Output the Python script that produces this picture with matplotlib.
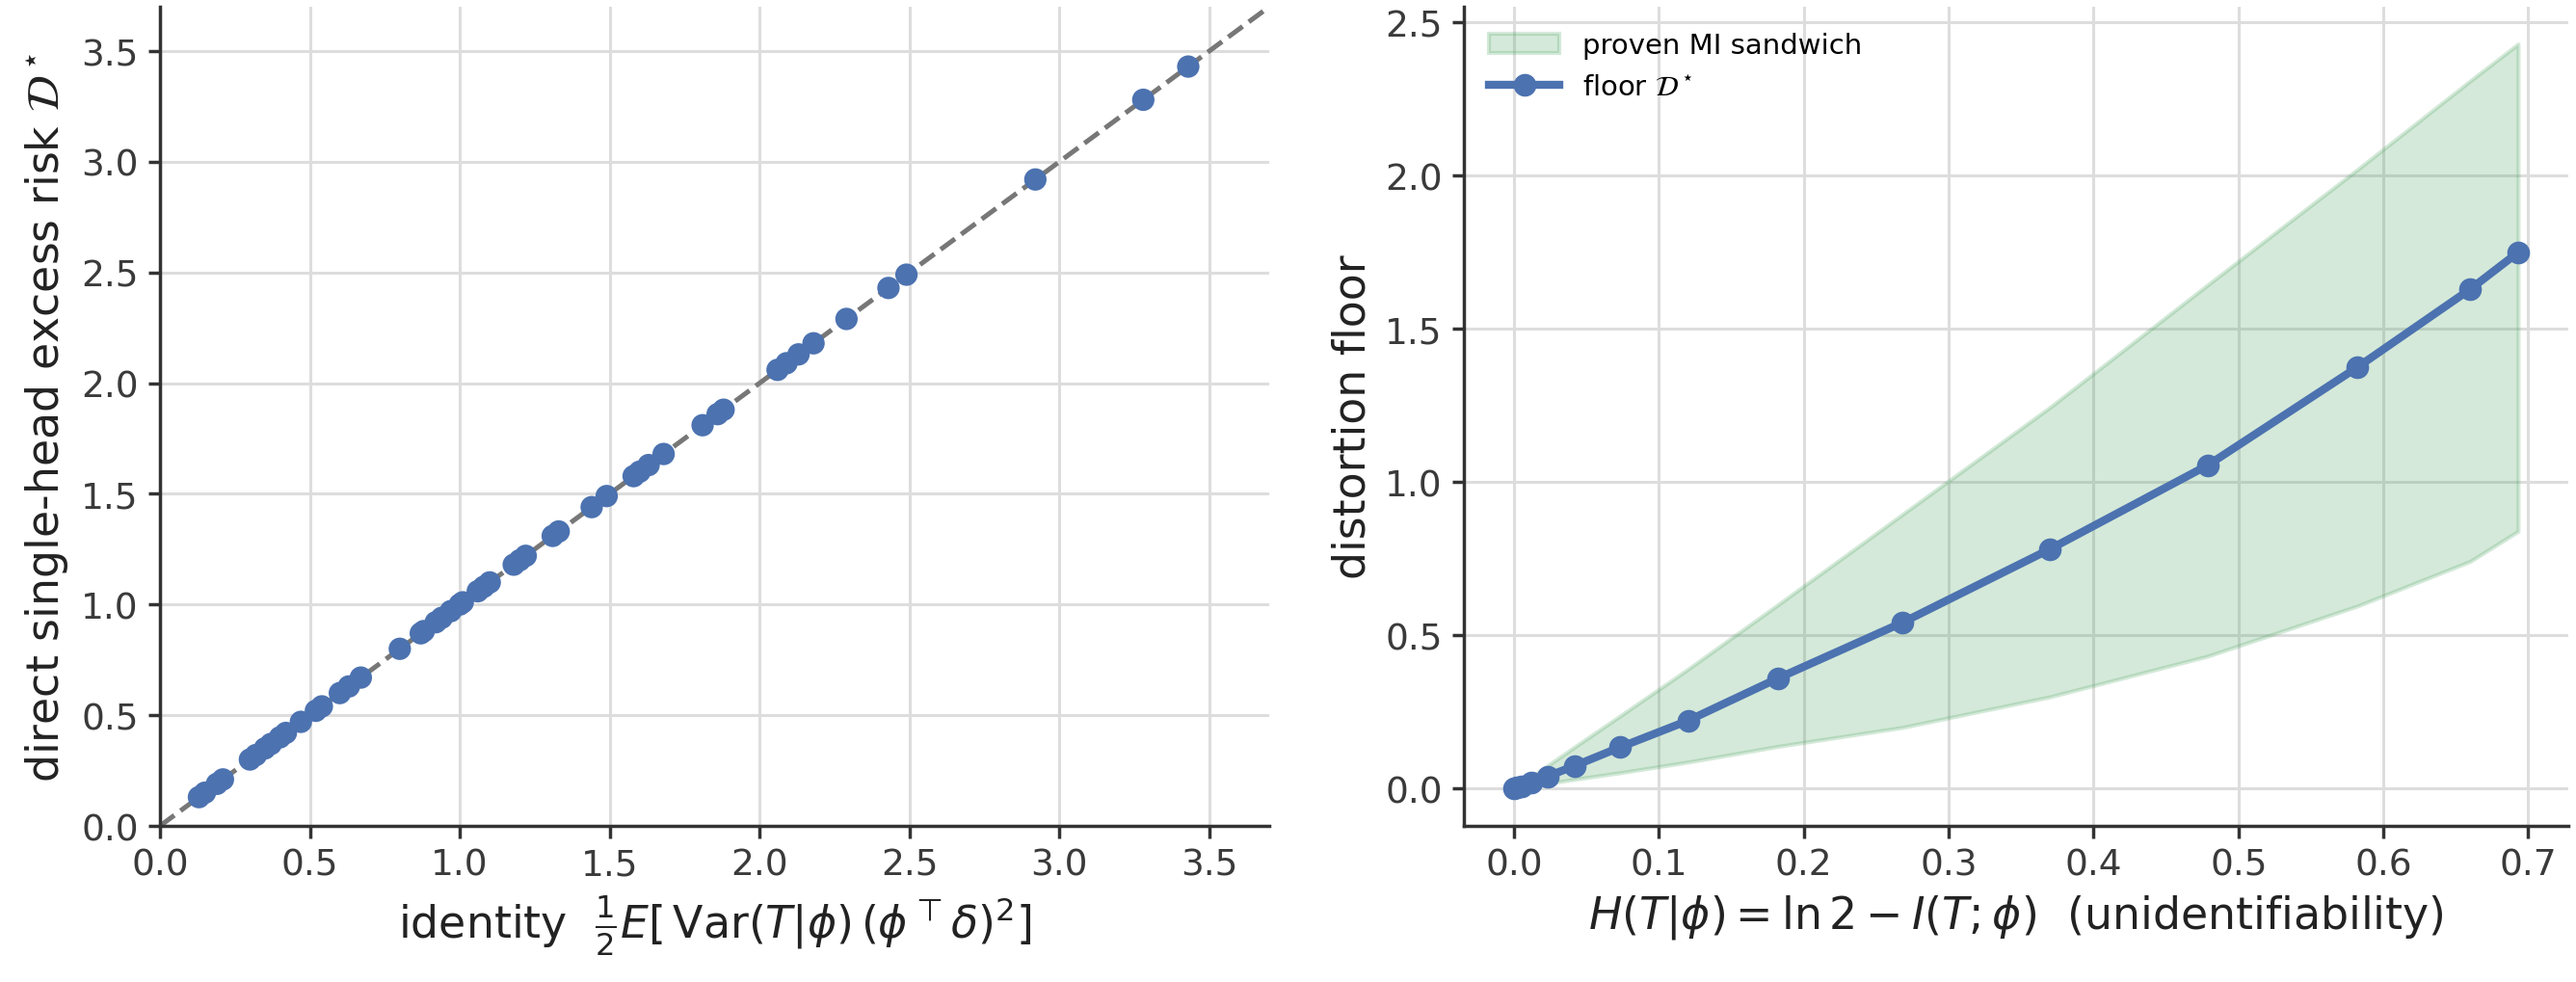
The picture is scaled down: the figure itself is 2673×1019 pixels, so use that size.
import matplotlib.pyplot as plt
import numpy as np

plt.switch_backend("Agg")

# Style
plt.rcParams['font.family'] = 'DejaVu Sans'
plt.rcParams['axes.edgecolor'] = '#333333'
plt.rcParams['axes.linewidth'] = 1.25
plt.rcParams['axes.axisbelow'] = True
plt.rcParams['xtick.color'] = '#333333'
plt.rcParams['ytick.color'] = '#333333'
plt.rcParams['xtick.labelcolor'] = '#3a3a3a'
plt.rcParams['ytick.labelcolor'] = '#3a3a3a'
plt.rcParams['xtick.major.size'] = 4.5
plt.rcParams['ytick.major.size'] = 4.5
plt.rcParams['xtick.major.width'] = 1.25
plt.rcParams['ytick.major.width'] = 1.25
plt.rcParams['xtick.labelsize'] = 13.5
plt.rcParams['ytick.labelsize'] = 13.5
plt.rcParams['axes.labelsize'] = 16.5
plt.rcParams['axes.labelcolor'] = '#222222'

BLUE = '#4C72B0'
GREEN = '#55A868'

# Left panel: identity check (direct risk vs identity formula)
identity_vals = [0.13, 0.15, 0.19, 0.21, 0.30, 0.32, 0.35, 0.37, 0.40, 0.42,
                 0.47, 0.52, 0.54, 0.60, 0.63, 0.67, 0.80, 0.87, 0.88, 0.92,
                 0.94, 0.97, 1.00, 1.01, 1.06, 1.08, 1.10, 1.18, 1.20, 1.22,
                 1.31, 1.33, 1.44, 1.49, 1.58, 1.60, 1.63, 1.68, 1.81, 1.86,
                 1.88, 2.06, 2.09, 2.13, 2.18, 2.29, 2.43, 2.49, 2.92, 3.28, 3.43]
direct_vals = [0.13, 0.15, 0.19, 0.21, 0.30, 0.32, 0.35, 0.37, 0.40, 0.42,
               0.47, 0.52, 0.54, 0.60, 0.63, 0.67, 0.80, 0.87, 0.88, 0.92,
               0.94, 0.97, 1.00, 1.01, 1.06, 1.08, 1.10, 1.18, 1.20, 1.22,
               1.31, 1.33, 1.44, 1.49, 1.58, 1.60, 1.63, 1.68, 1.81, 1.86,
               1.88, 2.06, 2.09, 2.13, 2.18, 2.29, 2.43, 2.49, 2.92, 3.28, 3.43]
diag_line = [0.0, 3.7]

# Right panel: distortion floor vs unidentifiability
h_cond = [0.0, 0.002, 0.005, 0.012, 0.023, 0.042, 0.073, 0.120, 0.182,
          0.268, 0.370, 0.479, 0.582, 0.660, 0.693]
floor_d = [0.0, 0.003, 0.008, 0.020, 0.040, 0.075, 0.135, 0.222, 0.360,
           0.542, 0.782, 1.056, 1.375, 1.630, 1.750]
mi_lower = [0.0, 0.0015, 0.0035, 0.009, 0.017, 0.031, 0.052, 0.087, 0.138,
            0.200, 0.300, 0.433, 0.596, 0.742, 0.840]
mi_upper = [0.0, 0.0065, 0.016, 0.039, 0.075, 0.137, 0.237, 0.390, 0.600,
            0.895, 1.245, 1.645, 2.020, 2.310, 2.430]

fig = plt.figure(figsize=(13.365, 5.1), dpi=200)
ax1 = fig.add_axes([0.0621, 0.1588, 0.4306, 0.8333])
ax2 = fig.add_axes([0.5683, 0.1588, 0.4287, 0.8333])

for ax in (ax1, ax2):
    ax.grid(True, color='#dddddd', linewidth=1.1)
    ax.spines['top'].set_visible(False)
    ax.spines['right'].set_visible(False)

# Left
ax1.plot(diag_line, diag_line, linestyle='--', color='#777777', linewidth=1.8, zorder=2)
ax1.scatter(identity_vals, direct_vals, s=70, color=BLUE, edgecolors='none', zorder=3)
ax1.set_xlim(0, 3.7)
ax1.set_ylim(0, 3.7)
ax1.set_xticks(np.arange(0, 3.6, 0.5))
ax1.set_yticks(np.arange(0, 3.6, 0.5))
ax1.set_xlabel(r'identity  $\frac{1}{2}E[\,\mathrm{Var}(T|\phi)\,(\phi^\top\delta)^2]$')
ax1.set_ylabel(r'direct single-head excess risk $\mathcal{D}^\star$')

# Right
ax2.fill_between(h_cond, mi_lower, mi_upper, color=GREEN, alpha=0.25,
                 linewidth=1.5, label='proven MI sandwich')
ax2.plot(h_cond, floor_d, '-o', color=BLUE, linewidth=3, markersize=7.5,
         label=r'floor $\mathcal{D}^\star$')
ax2.set_xticks(np.arange(0, 0.71, 0.1))
ax2.set_yticks(np.arange(0, 2.51, 0.5))
ax2.set_xlabel(r'$H(T|\phi) = \ln 2 - I(T;\phi)$  (unidentifiability)')
ax2.set_ylabel('distortion floor')
ax2.legend(loc='upper left', frameon=False, fontsize=10.5, handlelength=2.5)

fig.savefig('out.png', dpi=200)
